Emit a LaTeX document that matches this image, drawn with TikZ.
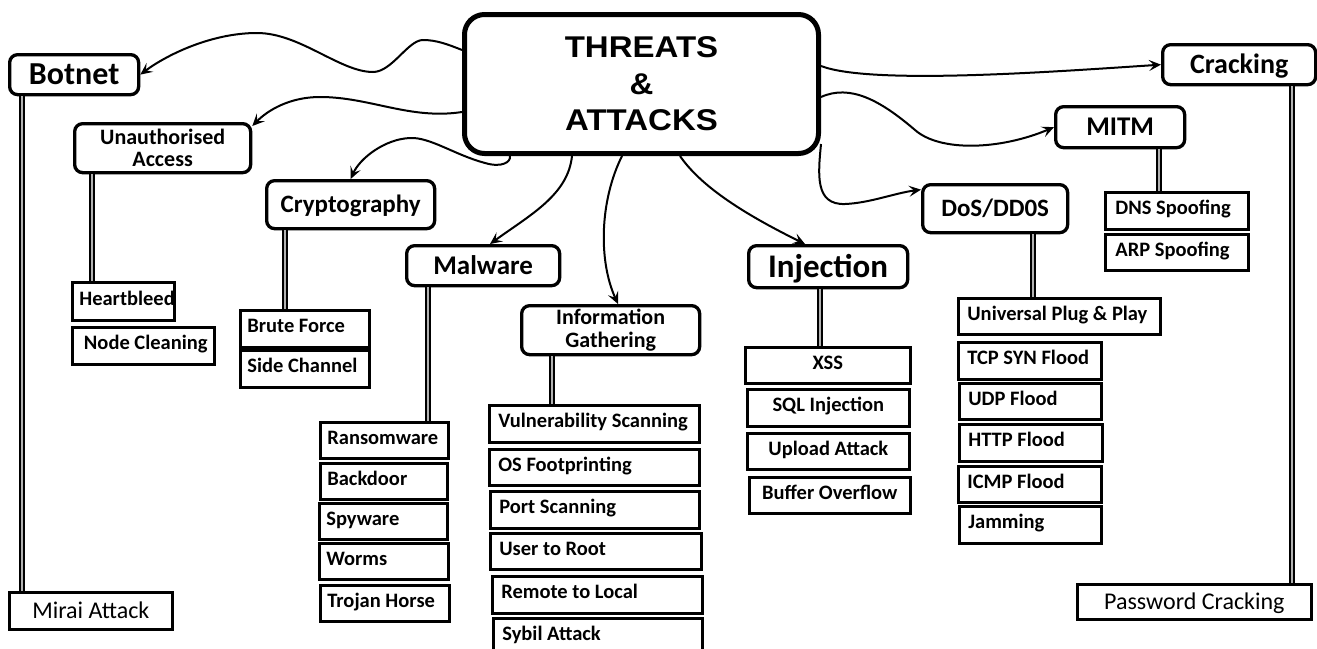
\documentclass[tikz,border=0pt]{standalone}
\usepackage{fontspec}
\setmainfont{Carlito}
\newfontfamily\titlefont{Liberation Sans}[FakeStretch=1.1]
\usetikzlibrary{arrows.meta}
\tikzset{
  mainbox/.style={draw, line width=5pt, rounded corners=20pt, fill=white, align=center,
    font=\titlefont\fontsize{30}{36.5}\selectfont\bfseries},
  pbox/.style={draw, line width=3.3pt, rounded corners=8pt, fill=white, inner sep=0pt},
  pboxtwo/.style={pbox, align=center, font=\bfseries\fontsize{22}{#1}\selectfont},
  leafbox/.style={draw, line width=2.7pt, fill=white, inner xsep=7pt, inner ysep=0pt,
    text height=14pt, text depth=6pt, font=\bfseries\fontsize{20.5}{20.5}\selectfont},
  regbox/.style={leafbox, text height=15.5pt, text depth=0pt, font=\fontsize{24}{24}\selectfont},
  stem/.style={line width=1.8pt, double=gray!60, double distance=2.2pt},
  arr/.style={line width=2pt, -{Stealth[length=12pt, width=11pt, inset=5pt]}}
}
% name, x1, y1, x2, y2, size, text
\newcommand\pnode[7]{%
  \pgfmathsetmacro\pnw{#4-#2}\pgfmathsetmacro\pnh{#5-#3}\pgfmathsetmacro\pnth{0.644*#6}%
  \node[pbox, minimum width=\pnw pt, minimum height=\pnh pt, text height=\pnth pt, text depth=0pt,
    font=\bfseries\fontsize{#6}{#6}\selectfont, anchor=north west] (#1) at (#2,#3) {#7};}
% [align] name, x1, y1, x2, y2, text
\newcommand\leafnode[7][l]{%
  \pgfmathsetmacro\lnw{#5-#3}\pgfmathsetmacro\lnh{#6-#4}\pgfmathsetmacro\lnt{#5-#3-14}%
  \node[leafbox, minimum width=\lnw pt, minimum height=\lnh pt, anchor=north west] (#2) at (#3,#4)
    {\makebox[\lnt pt][#1]{#7}};}
\newcommand\regnode[6]{%
  \pgfmathsetmacro\lnw{#4-#2}\pgfmathsetmacro\lnh{#5-#3}\pgfmathsetmacro\lnt{#4-#2-14}%
  \node[regbox, minimum width=\lnw pt, minimum height=\lnh pt, anchor=north west] (#1) at (#2,#3)
    {\makebox[\lnt pt][c]{#6}};}
\begin{document}
\begin{tikzpicture}[x=1pt, y=-1pt]
\fill[white] (0,0) rectangle (1317,648);
\useasboundingbox (0,0) rectangle (1317,648);

% central node
\node[mainbox, minimum width=354pt, minimum height=139pt, anchor=north west] (main) at (462,12)
  {THREATS\\\&\\ATTACKS};

% categories
\pnode{botnet}{8}{53}{137}{93}{32}{Botnet}
\node[pboxtwo=21.6, minimum width=176pt, minimum height=49pt, anchor=north west] (unauth) at (73,122)
  {Unauthorised\\Access};
\pnode{crypto}{265}{179}{433}{227}{25}{Cryptography}
\pnode{malware}{405}{244}{558}{284}{27}{Malware}
\node[pboxtwo=23, minimum width=178pt, minimum height=49pt, anchor=north west] (info) at (520,304)
  {Information\\Gathering};
\pnode{inject}{747}{244}{906}{286}{33}{Injection}
\pnode{dos}{921}{183}{1066}{231}{25}{DoS/DD0S}
\pnode{mitm}{1054}{105}{1183}{146}{27}{MITM}
\pnode{crack}{1161}{43}{1314}{83}{28}{Cracking}

% leaves
\regnode{mirai}{8}{591}{171}{628}{Mirai Attack}
\leafnode{heart}{71}{281}{173}{319}{Heartbleed}
\leafnode{nodecl}{71}{326}{213}{363}{~Node Cleaning}
\leafnode{brute}{239}{309}{368}{346}{Brute Force}
\leafnode{side}{239}{349}{368}{386}{Side Channel}
\leafnode{ransom}{319}{421}{447}{457}{Ransomware}
\leafnode{backdoor}{319}{462}{446}{498}{Backdoor}
\leafnode{spy}{318}{502}{446}{538}{Spyware}
\leafnode{worms}{318}{542}{447}{578}{Worms}
\leafnode{trojan}{319}{584}{448}{620}{Trojan Horse}
\leafnode{vuln}{488}{404}{698}{441}{\hspace{2pt}Vulnerability Scanning}
\leafnode{osfp}{488}{448}{698}{484}{\hspace{2pt}OS Footprinting}
\leafnode{port}{489}{490}{698}{527}{\hspace{2pt}Port Scanning}
\leafnode{u2r}{489}{532}{700}{568}{\hspace{2pt}User to Root}
\leafnode{r2l}{491}{575}{701}{612}{\hspace{2pt}Remote to Local}
\leafnode{sybil}{492}{617}{701}{654}{\hspace{2pt}Sybil Attack}
\leafnode[c]{xss}{744}{346}{909}{382}{XSS}
\leafnode[c]{sql}{746}{388}{908}{425}{SQL Injection}
\leafnode[c]{upload}{746}{432}{908}{468}{Upload Attack}
\leafnode[c]{buffer}{748}{476}{909}{512}{Buffer Overflow}
\leafnode{upnp}{957}{297}{1159}{333}{\hspace{2pt}Universal Plug \& Play}
\leafnode{tcp}{957}{341}{1100}{378}{\hspace{2pt}TCP SYN Flood}
\leafnode{udp}{958}{382}{1100}{418}{\hspace{2pt}UDP Flood}
\leafnode{http}{958}{423}{1101}{460}{\hspace{2pt}HTTP Flood}
\leafnode{icmp}{957}{465}{1100}{501}{\hspace{2pt}ICMP Flood}
\leafnode{jam}{958}{505}{1100}{542}{\hspace{2pt}Jamming}
\leafnode{dns}{1104}{191}{1247}{228}{\hspace{3pt}DNS Spoofing}
\leafnode{arp}{1104}{233}{1247}{269}{\hspace{3pt}ARP Spoofing}
\regnode{pwd}{1076}{583}{1310}{618}{Password Cracking}

% stems
\draw[stem] ([xshift=14pt]botnet.south west) -- ([xshift=14pt]mirai.north west);
\draw[stem] ([xshift=19pt]unauth.south west) -- ([xshift=21pt]heart.north west);
\draw[stem] ([xshift=20pt]crypto.south west) -- ([xshift=46pt]brute.north west);
\draw[stem] ([xshift=23pt]malware.south west) -- ([xshift=109pt]ransom.north west);
\draw[stem] ([xshift=32pt]info.south west) -- ([xshift=64pt]vuln.north west);
\draw[stem] ([xshift=73pt]inject.south west) -- ([xshift=76pt]xss.north west);
\draw[stem] ([xshift=112pt]dos.south west) -- ([xshift=76pt]upnp.north west);
\draw[stem] ([xshift=105pt]mitm.south west) -- ([xshift=55pt]dns.north west);
\draw[stem] ([xshift=131pt]crack.south west) -- ([xshift=216pt]pwd.north west);

% curved arrows
\draw[arr] ([yshift=-38pt]main.north west) .. controls (447,44) and (436,40) .. (423,40)
  .. controls (408,40) and (392,72) .. (373,72)
  .. controls (340,72) and (300,33) .. (257,33)
  .. controls (210,33) and (165,56) .. (botnet.east);
\draw[arr] ([yshift=-100pt]main.north west) .. controls (410,120) and (370,97) .. (320,97)
  .. controls (290,97) and (268,110) .. ([yshift=-4pt]unauth.north east);
\draw[arr] ([xshift=48pt]main.south west) .. controls (511,162) and (502,168) .. (485,163)
  .. controls (455,155) and (430,137) .. (410,138)
  .. controls (385,139) and (360,158) .. (crypto.north);
\draw[arr] ([xshift=110pt]main.south west) .. controls (568,195) and (530,215) .. ([xshift=85pt]malware.north west);
\draw[arr] ([xshift=160pt]main.south west) .. controls (600,200) and (598,260) .. ([xshift=98pt]info.north west);
\draw[arr] ([xshift=218pt]main.south west) .. controls (700,185) and (740,212) .. ([xshift=58pt]inject.north west);
\draw[arr] ([yshift=12pt]main.south east) .. controls (818,175) and (815,205) .. (845,204)
  .. controls (870,203) and (895,193) .. ([yshift=19pt]dos.west);
\draw[arr] ([yshift=-85pt]main.north east) .. controls (850,84) and (880,100) .. (915,130)
  .. controls (940,152) and (1000,150) .. (mitm.west);
\draw[arr] ([yshift=-54pt]main.north east) .. controls (870,85) and (1050,72) .. (crack.west);
\end{tikzpicture}
\end{document}
